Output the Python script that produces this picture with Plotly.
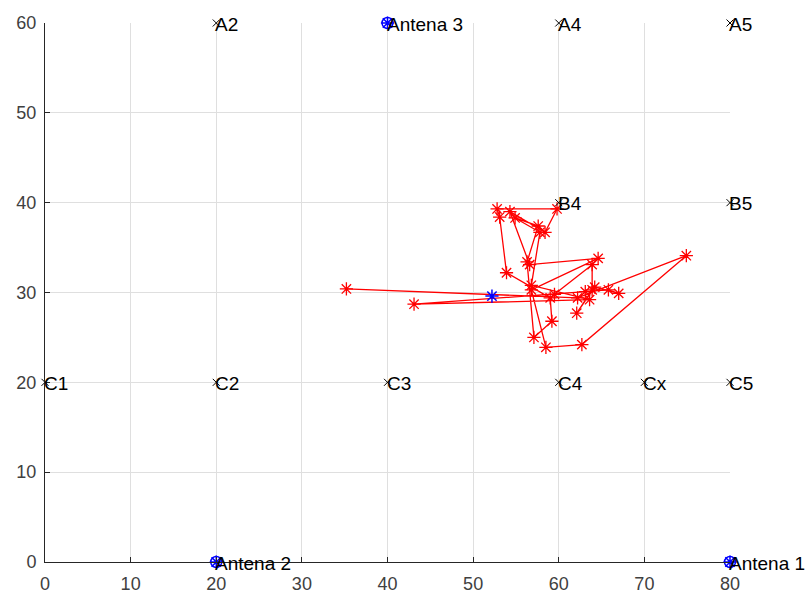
import plotly.graph_objects as go

# Reference points (grid nodes) with their names
ref_names = ["A2", "A4", "A5", "B4", "B5", "C1", "C2", "C3", "C4", "Cx", "C5"]
ref_x = [20, 60, 80, 60, 80, 0, 20, 40, 60, 70, 80]
ref_y = [60, 60, 60, 40, 40, 20, 20, 20, 20, 20, 20]

# Antenna positions
ant_names = ["Antena 1", "Antena 2", "Antena 3"]
ant_x = [80, 20, 40]
ant_y = [0, 0, 60]

# Sequence of position estimates
est_x = [35.2, 62.2, 74.9, 62.7, 58.5, 56.8, 64.6, 56.6, 54.3, 58.4, 59.8, 52.8,
         53.1, 53.9, 59.0, 59.2, 57.1, 56.3, 57.6, 54.9, 57.8, 56.8, 63.6, 43.1,
         63.1, 65.8, 67.0, 64.2, 62.1, 63.9, 63.9, 59.5]
est_y = [30.4, 29.4, 34.1, 24.2, 23.9, 30.3, 33.8, 33.1, 39.0, 36.7, 39.3, 39.3,
         38.4, 32.2, 29.4, 26.8, 25.0, 33.4, 37.4, 38.3, 36.7, 30.8, 29.2, 28.7,
         30.1, 30.3, 29.9, 30.6, 27.7, 30.3, 33.1, 29.8]

# Mean estimate
mean_x = [52.2]
mean_y = [29.6]

font_family = "Liberation Sans, Arial, sans-serif"

fig = go.Figure()

fig.add_trace(go.Scatter(
    x=est_x, y=est_y, mode="lines+markers",
    line=dict(color="#ff0000", width=1.3),
    marker=dict(symbol="asterisk-open", size=11, color="#ff0000",
                line=dict(color="#ff0000", width=1.3)),
    cliponaxis=False, showlegend=False, hoverinfo="skip",
))

fig.add_trace(go.Scatter(
    x=mean_x, y=mean_y, mode="markers",
    marker=dict(symbol="asterisk-open", size=11, color="#0000ff",
                line=dict(color="#0000ff", width=1.5)),
    cliponaxis=False, showlegend=False, hoverinfo="skip",
))

fig.add_trace(go.Scatter(
    x=ref_x, y=ref_y, mode="markers",
    marker=dict(symbol="x-thin-open", size=7, color="#000000",
                line=dict(color="#000000", width=1)),
    cliponaxis=False, showlegend=False, hoverinfo="skip",
))

for sym in ["circle-open", "asterisk-open"]:
    fig.add_trace(go.Scatter(
        x=ant_x, y=ant_y, mode="markers",
        marker=dict(symbol=sym, size=11, color="#0000ff",
                    line=dict(color="#0000ff", width=1.5)),
        cliponaxis=False, showlegend=False, hoverinfo="skip",
    ))

annotations = []
for name, x, y in list(zip(ref_names, ref_x, ref_y)) + list(zip(ant_names, ant_x, ant_y)):
    annotations.append(dict(
        x=x, y=y, text=name, showarrow=False, xanchor="left", yanchor="middle",
        xshift=-3, yshift=-1, font=dict(family=font_family, size=19, color="#000000"),
    ))

axis_common = dict(
    showgrid=True, gridcolor="#dfdfdf", gridwidth=1,
    showline=True, linecolor="#262626", linewidth=1,
    ticks="inside", ticklen=5, tickcolor="#262626",
    tickfont=dict(family=font_family, size=18, color="#404040"),
    zeroline=False, mirror=False, fixedrange=True, automargin=False,
)

fig.update_layout(
    width=810, height=591,
    margin=dict(l=45, r=80, t=23, b=29),
    paper_bgcolor="white", plot_bgcolor="white",
    xaxis=dict(range=[0, 80], tickvals=[0, 10, 20, 30, 40, 50, 60, 70, 80],
               ticklabelstandoff=5, **axis_common),
    yaxis=dict(range=[0, 60], tickvals=[0, 10, 20, 30, 40, 50, 60],
               ticklabelstandoff=4, **axis_common),
    annotations=annotations,
)

fig.write_html("out.html")
